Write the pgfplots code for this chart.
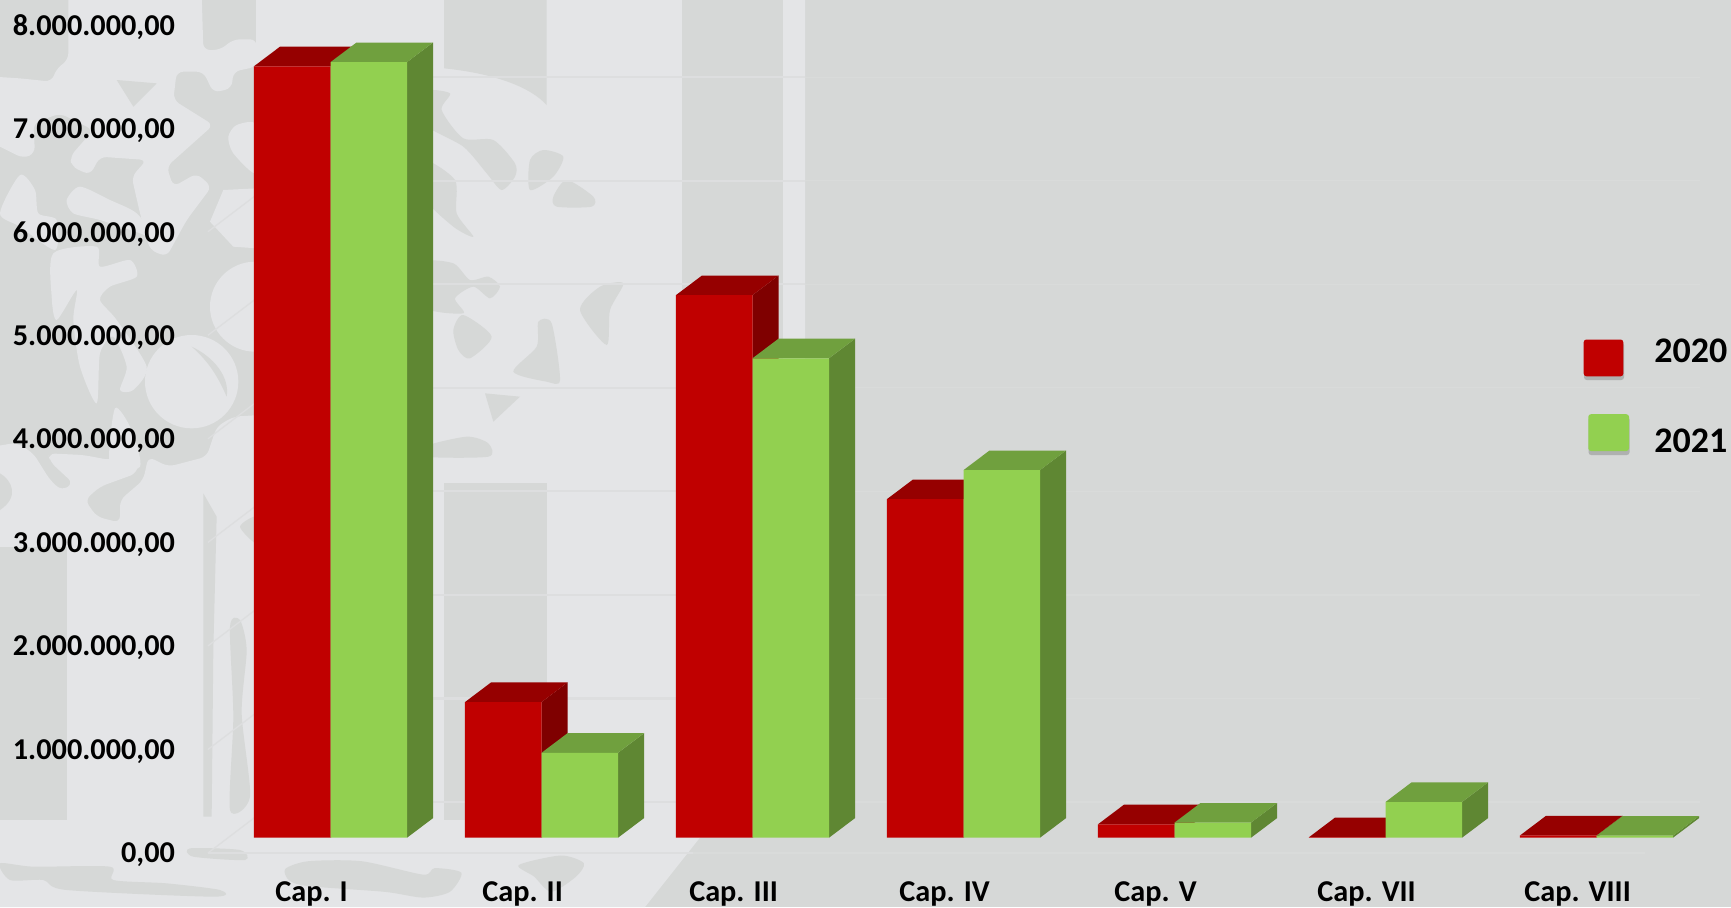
\documentclass[border=0pt]{standalone}
\usepackage{pgfplots}
\pgfplotsset{compat=1.18}
\usepackage{fontspec}
\setmainfont{Carlito}
\definecolor{bgd}{HTML}{D6D8D7}
\definecolor{bgl}{HTML}{E4E5E7}
\definecolor{gridc}{HTML}{DDDEDF}
\definecolor{gridr}{HTML}{D9DBDA}
\definecolor{rf}{HTML}{C00000}
\definecolor{rt}{HTML}{960000}
\definecolor{rs}{HTML}{7F0000}
\definecolor{gf}{HTML}{92D050}
\definecolor{gt}{HTML}{70A03E}
\definecolor{gs}{HTML}{5F8733}
% faces of one 3-D pair: {k}{2020 value}{2020 value + depth}{2021 value}{2021 value + depth}
\newcommand\faces[5]{%
  \pgfmathsetmacro\xL{#1-0.3626}\pgfmathsetmacro\xLd{#1-0.2394}%
  \pgfmathsetmacro\xM{#1}\pgfmathsetmacro\xMd{#1+0.1232}%
  \pgfmathsetmacro\xR{#1+0.3626}\pgfmathsetmacro\xRd{#1+0.4858}%
  \addplot[fill=rs,draw=none,forget plot] coordinates {(\xM,0)(\xMd,189300)(\xMd,#3)(\xM,#2)} --cycle;
  \addplot[fill=rt,draw=none,forget plot] coordinates {(\xL,#2)(\xLd,#3)(\xMd,#3)(\xM,#2)} --cycle;
  \addplot[fill=gs,draw=none,forget plot] coordinates {(\xR,0)(\xRd,189300)(\xRd,#5)(\xR,#4)} --cycle;
  \addplot[fill=gt,draw=none,forget plot] coordinates {(\xM,#4)(\xMd,#5)(\xRd,#5)(\xR,#4)} --cycle;
}
\newcommand\blob[1]{\fill plot[smooth cycle,tension=.45] coordinates {#1};}
\begin{document}
\begin{tikzpicture}
\useasboundingbox (0,0) rectangle (1298.25pt,-680.25pt);
\begin{scope}
\clip (0,0) rectangle (1298.25pt,-680.25pt);
\fill[bgd] (0,0) rectangle (1298.25pt,-680.25pt);
\begin{scope}[x=.75pt,y=-.75pt]
\fill[bgl] (0,0)--(805,0)--(805,830)--(702,835)--(645,907)--(0,907)--cycle;
\fill[bgd] (682,0) rectangle (783,820);
\fill[bgd] (444,483) rectangle (547,820);
\fill[bgd] (0,0) rectangle (256,560);
\end{scope}
% light shapes, upper left
\begin{scope}[x=.25pt,y=-.25pt,fill=bgl]
\fill[rounded corners=5pt] (205,-20)--(605,-20)--(610,150)--(660,150)--(700,118)--(770,118)--(770,200)--(700,215)--(695,265)--(640,278)--(610,215)--(530,215)--(520,300)--(640,375)--(500,500)--(520,560)--(590,520)--(635,560)--(560,660)--(500,770)--(450,750)--(420,640)--(395,530)--(440,480)--(300,470)--(270,525)--(215,500)--(210,470)--(280,390)--(180,340)--(100,370)--(105,460)--(70,475)--(-20,430)--(-20,230)--(60,235)--(155,245)--(170,205)--(205,180)--cycle;
\fill[bgd] (350,240)--(470,250)--(400,320)--cycle;
\blob{(0,640)(60,525)(105,570)(115,640)(170,660)(165,750)(60,680)}
\blob{(200,600)(240,560)(330,600)(410,640)(470,720)(420,700)(300,660)(220,640)}
\blob{(160,760)(290,740)(300,800)(390,780)(410,830)(330,860)(300,900)(350,960)(440,1100)(400,1170)(360,1170)(380,1100)(340,1010)(300,1060)(290,1210)(240,1100)(220,960)(230,870)(170,960)(155,890)}
\fill (575,1145) circle (140);
\fill[bgd] (575,1040)..controls (640,1070) and (690,1130)..(680,1190)..controls (650,1120) and (620,1080)..(575,1040)--cycle;
\fill (630,665)--(670,570)--(770,565)--(770,745)--(700,740)--cycle;
\fill (765,920) circle (135);
\blob{(685,410)(710,375)(770,375)(770,520)(700,460)}
\blob{(345,1225)(395,1290)(420,1400)(330,1400)}
\end{scope}
% light ground below the dark part of the left column
\begin{scope}[shift={(0,-255pt)},x=.25pt,y=-.25pt,fill=bgl]
\fill[rounded corners=5pt] (-20,320)--(50,308)--(100,340)--(150,420)--(185,452)--(220,430)--(150,365)--(145,340)--(250,345)--(330,360)--(420,340)--(410,400)--(300,440)--(255,480)--(290,530)--(360,548)--(360,480)--(430,420)--(445,350)--(505,380)--(620,350)--(650,260)--(700,230)--(780,225)--(780,680)--(-20,680)--cycle;
\blob{(0,400)(35,420)(50,460)(30,490)(0,510)}
\fill[bgd] (0,400)..controls (35,420) and (60,470)..(0,510)--cycle;
\end{scope}
\begin{scope}[x=.75pt,y=-.75pt]
\fill[bgd] (0,547) rectangle (67,820);
\end{scope}
% dark shapes, lower left
\begin{scope}[shift={(0,-337.5pt)},x=.25pt,y=-.25pt,fill=bgd]
\fill (610,130)--(650,200)--(640,600)--(635,1100)--(610,1100)--cycle;
\blob{(690,530)(720,510)(740,600)(725,790)(750,1040)(690,1080)(700,800)}
\blob{(0,1240)(100,1250)(330,1250)(340,1290)(500,1300)(660,1320)(640,1340)(200,1320)(130,1290)(30,1290)}
\blob{(570,1195)(720,1200)(735,1230)(580,1220)}
\blob{(720,230)(770,200)(770,280)}
\end{scope}
% dark shapes between the first bars
\begin{scope}[shift={(315pt,0)},x=.25pt,y=-.25pt,fill=bgd]
\fill (72,0)--(380,0)--(380,315)..controls (330,260) and (220,220)..(72,205)--cycle;
\blob{(10,275)(90,280)(65,330)(130,415)(220,420)(285,490)(285,530)(245,570)(200,520)(130,440)(10,370)}
\blob{(330,480)(370,450)(430,470)(400,530)(330,570)}
\blob{(400,590)(440,540)(520,590)(515,620)(410,620)}
\blob{(10,480)(105,540)(110,640)(160,710)(100,680)(10,590)}
\blob{(10,790)(100,790)(150,840)(205,830)(240,860)(210,895)(160,860)(105,895)(130,940)(10,920)}
\blob{(100,990)(130,945)(215,1010)(150,1075)(115,1050)}
\blob{(480,930)(540,860)(610,850)(570,930)(560,1035)}
\blob{(280,1115)(350,1040)(355,965)(395,970)(420,1140)(380,1145)}
\fill (195,1180)--(300,1190)--(220,1265)--cycle;
\blob{(10,1340)(140,1310)(205,1330)(205,1370)(10,1370)}
\end{scope}
% dark shapes along the bottom
\begin{scope}[shift={(202.5pt,-600pt)},x=.287pt,y=-.287pt,fill=bgd]
\blob{(40,180)(100,160)(240,160)(400,195)(430,178)(500,190)(470,240)(400,255)(300,240)(100,225)(50,210)}
\blob{(650,170)(760,145)(820,165)(800,200)(735,240)(690,200)}
\blob{(70,325)(180,290)(350,300)(360,325)}
\end{scope}
\end{scope}
\begin{axis}[
  at={(0,0)},anchor=north west,
  scale only axis,width=1298.25pt,height=680.25pt,
  xmin=-1.5664,xmax=6.6374,ymin=-669000,ymax=8090000,
  axis line style={draw=none},major tick length=0pt,
  clip=true,
  scaled y ticks=false,
  ytick={0,1000000,2000000,3000000,4000000,5000000,6000000,7000000,8000000},
  yticklabels={{0,00},{1.000.000,00},{2.000.000,00},{3.000.000,00},{4.000.000,00},{5.000.000,00},{6.000.000,00},{7.000.000,00},{8.000.000,00}},
  yticklabel style={font=\fontsize{22.7}{24}\selectfont\bfseries,anchor=east,xshift=131.4pt,yshift=-13pt,inner sep=0pt},
  xtick={0,1,2,3,4,5,6},
  xticklabels={Cap. I,Cap. II,Cap. III,Cap. IV,Cap. V,Cap. VII,Cap. VIII},
  xticklabel style={font=\fontsize{22.7}{24}\selectfont\bfseries,anchor=center,xshift=-14.2pt,yshift=10pt,inner sep=0pt},
]
% back-wall and floor grid
\pgfplotsset{every axis plot/.append style={forget plot}}
\addplot[gridc,line width=1.6pt] coordinates {(-0.263,344800)(2.249,344800)};
\addplot[gridc,line width=1.6pt] coordinates {(-0.263,1344800)(2.249,1344800)};
\addplot[gridc,line width=1.6pt] coordinates {(-0.263,2344800)(2.249,2344800)};
\addplot[gridc,line width=1.6pt] coordinates {(-0.263,3344800)(2.249,3344800)};
\addplot[gridc,line width=1.6pt] coordinates {(-0.263,4344800)(2.249,4344800)};
\addplot[gridc,line width=1.6pt] coordinates {(-0.263,5344800)(2.249,5344800)};
\addplot[gridc,line width=1.6pt] coordinates {(-0.263,6344800)(2.249,6344800)};
\addplot[gridc,line width=1.6pt] coordinates {(-0.263,7344800)(2.249,7344800)};
\addplot[gridr,line width=1pt] coordinates {(2.249,344800)(6.491,344800)};
\addplot[gridr,line width=1pt] coordinates {(2.249,1344800)(6.491,1344800)};
\addplot[gridr,line width=1pt] coordinates {(2.249,2344800)(6.491,2344800)};
\addplot[gridr,line width=1pt] coordinates {(2.249,3344800)(6.491,3344800)};
\addplot[gridr,line width=1pt] coordinates {(2.249,4344800)(6.491,4344800)};
\addplot[gridr,line width=1pt] coordinates {(2.249,5344800)(6.491,5344800)};
\addplot[gridr,line width=1pt] coordinates {(2.249,6344800)(6.491,6344800)};
\addplot[gridr,line width=1pt] coordinates {(2.249,7344800)(6.491,7344800)};
\addplot[gridc,line width=1.6pt] coordinates {(-0.581,-148000)(1.72,-148000)};
\addplot[gridr,line width=1pt] coordinates {(1.72,-148000)(6.23,-148000)};
\addplot[gridc,line width=1pt] coordinates {(-0.581,-148000)(-0.263,344800)};
\addplot[gridc,line width=1pt] coordinates {(-0.581,852000)(-0.263,1344800)};
\addplot[gridc,line width=1pt] coordinates {(-0.581,1852000)(-0.263,2344800)};
\addplot[gridc,line width=1pt] coordinates {(-0.581,2852000)(-0.263,3344800)};
\addplot[gridc,line width=1pt] coordinates {(-0.581,3852000)(-0.263,4344800)};
\addplot[gridc,line width=1pt] coordinates {(-0.581,4852000)(-0.263,5344800)};
\addplot[gridc,line width=1pt] coordinates {(-0.581,5852000)(-0.263,6344800)};
\faces{0}{7450000}{7639300}{7490000}{7679300}
\faces{1}{1310000}{1499300}{820000}{1009300}
\faces{2}{5240000}{5429300}{4630000}{4819300}
\faces{3}{3270000}{3459300}{3550000}{3739300}
\faces{4}{130000}{319300}{146000}{335300}
\faces{5}{5000}{194300}{345000}{534300}
\faces{6}{22000}{211300}{20000}{209300}
\addplot[ybar,bar width=57.4pt,bar shift=-28.7pt,fill=rf,draw=none] coordinates {(0,7450000)(1,1310000)(2,5240000)(3,3270000)(4,130000)(5,5000)(6,22000)};
\addplot[ybar,bar width=57.4pt,bar shift=28.7pt,fill=gf,draw=none] coordinates {(0,7490000)(1,820000)(2,4630000)(3,3550000)(4,146000)(5,345000)(6,20000)};
\end{axis}
\begin{scope}[x=.75pt,y=-.75pt]
\fill[black,opacity=.18,rounded corners=2pt] (1584,342.5) rectangle (1624,380);
\fill[rf,rounded corners=2pt] (1583.7,339.5) rectangle (1623.3,376.3);
\fill[black,opacity=.18,rounded corners=2pt] (1588.5,417) rectangle (1629.5,455);
\fill[gf,rounded corners=2pt] (1588.3,414.2) rectangle (1629,451);
\node[anchor=west,inner sep=0pt,font=\fontsize{27}{29}\selectfont\bfseries] at (1654,351) {2020};
\node[anchor=west,inner sep=0pt,font=\fontsize{27}{29}\selectfont\bfseries] at (1654,441) {2021};
\end{scope}
\end{tikzpicture}
\end{document}
